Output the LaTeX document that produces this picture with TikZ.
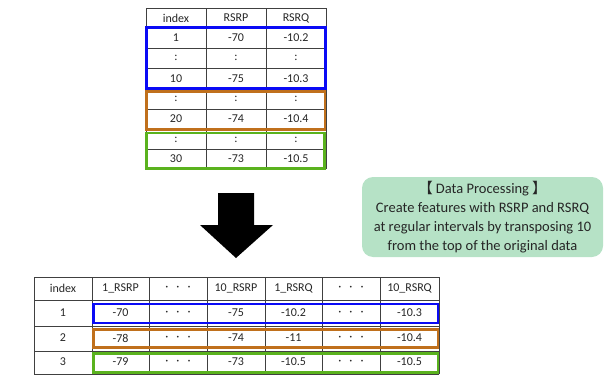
\documentclass[tikz,border=0pt]{standalone}
\usepackage{fontspec}
\setmainfont{Carlito}
\newfontfamily\cjkfont{Noto Sans CJK JP}
\definecolor{gridc}{HTML}{404040}
\definecolor{bluebox}{HTML}{0A0AF5}
\definecolor{orangebox}{HTML}{C0701C}
\definecolor{greenbox}{HTML}{5AB21E}
\definecolor{mint}{HTML}{B6E2C6}
\begin{document}
\begin{tikzpicture}[x=1pt,y=-1pt,
  grid/.style={draw=gridc,line width=0.8pt},
  cell/.style={inner sep=0pt,font=\fontsize{12}{13}\selectfont,text=black!85},
  hl/.style={line width=2.2pt}]
\useasboundingbox (0,0) rectangle (605,380);
% ---------- top table ----------
\foreach \y in {8,27.5,48,68.5,89.5,109,129.5,149.5,168.5}
  \draw[grid] (146,\y) -- (326,\y);
\foreach \x in {146,206,266,326}
  \draw[grid] (\x,8) -- (\x,168.5);
\node[cell] (th1) at (176,18) {index};
\node[cell] (th2) at (236,18) {RSRP};
\node[cell] (th3) at (296,18) {RSRQ};
\node[cell] (t11) at (176,38) {1};
\node[cell] (t12) at (236,38) {-70};
\node[cell] (t13) at (296,38) {-10.2};
\node[cell] (t21) at (176,58) {:};
\node[cell] (t22) at (236,58) {:};
\node[cell] (t23) at (296,58) {:};
\node[cell] (t31) at (176,79) {10};
\node[cell] (t32) at (236,79) {-75};
\node[cell] (t33) at (296,79) {-10.3};
\node[cell] (t41) at (176,99) {:};
\node[cell] (t42) at (236,99) {:};
\node[cell] (t43) at (296,99) {:};
\node[cell] (t51) at (176,119) {20};
\node[cell] (t52) at (236,119) {-74};
\node[cell] (t53) at (296,119) {-10.4};
\node[cell] (t61) at (176,140) {:};
\node[cell] (t62) at (236,140) {:};
\node[cell] (t63) at (296,140) {:};
\node[cell] (t71) at (176,159) {30};
\node[cell] (t72) at (236,159) {-73};
\node[cell] (t73) at (296,159) {-10.5};
\draw[hl,bluebox] (146.5,27.5) rectangle (325.5,88.5);
\draw[hl,orangebox] (146.5,91.5) rectangle (325,129.5);
\draw[hl,greenbox] (146.5,133) rectangle (324.5,168.5);
% ---------- arrow ----------
\fill[black] (218,193) -- (254,193) -- (254,225) -- (273,225) -- (236,258)
  -- (200,225) -- (218,225) -- cycle;
% ---------- note box ----------
\node[draw=none,fill=mint,rounded corners=11pt,minimum width=241pt,minimum height=80pt,
  inner sep=0pt] (note) at (482.5,217) {};
\node[align=center,font=\fontsize{14.5}{19}\selectfont,text=black!85,inner sep=0pt]
  (notetext) at (note.center)
  {{\cjkfont 【}\hspace{3pt}Data Processing\hspace{3pt}{\cjkfont 】}\\
   Create features with RSRP and RSRQ\\
   at regular intervals by transposing 10\\
   from the top of the original data};
% ---------- bottom table ----------
\foreach \y in {277,300.5,326,351,374}
  \draw[grid] (34,\y) -- (439,\y);
\foreach \x in {34,92,149,207,265,322,380,439}
  \draw[grid] (\x,277) -- (\x,374);
\def\dd{·\hspace{8pt}·\hspace{8pt}·}
\node[cell] (bh1) at (63,288.5) {index};
\node[cell] (bh2) at (120.5,288.5) {1\_RSRP};
\node[cell] (bh3) at (178,288.5) {\dd};
\node[cell] (bh4) at (236,288.5) {10\_RSRP};
\node[cell] (bh5) at (293.5,288.5) {1\_RSRQ};
\node[cell] (bh6) at (351,288.5) {\dd};
\node[cell] (bh7) at (409.5,288.5) {10\_RSRQ};
\node[cell] (b11) at (63,313) {1};
\node[cell] (b12) at (120.5,313) {-70};
\node[cell] (b13) at (178,313) {\dd};
\node[cell] (b14) at (236,313) {-75};
\node[cell] (b15) at (293.5,313) {-10.2};
\node[cell] (b16) at (351,313) {\dd};
\node[cell] (b17) at (409.5,313) {-10.3};
\node[cell] (b21) at (63,338) {2};
\node[cell] (b22) at (120.5,338) {-78};
\node[cell] (b23) at (178,338) {\dd};
\node[cell] (b24) at (236,338) {-74};
\node[cell] (b25) at (293.5,338) {-11};
\node[cell] (b26) at (351,338) {\dd};
\node[cell] (b27) at (409.5,338) {-10.4};
\node[cell] (b31) at (63,362) {3};
\node[cell] (b32) at (120.5,362) {-79};
\node[cell] (b33) at (178,362) {\dd};
\node[cell] (b34) at (236,362) {-73};
\node[cell] (b35) at (293.5,362) {-10.5};
\node[cell] (b36) at (351,362) {\dd};
\node[cell] (b37) at (409.5,362) {-10.5};
\draw[hl,bluebox] (93.5,304) rectangle (438,323);
\draw[hl,orangebox] (93.5,329.5) rectangle (438,347.5);
\draw[hl,greenbox] (93.5,353.5) rectangle (438,372.5);
\end{tikzpicture}
\end{document}
